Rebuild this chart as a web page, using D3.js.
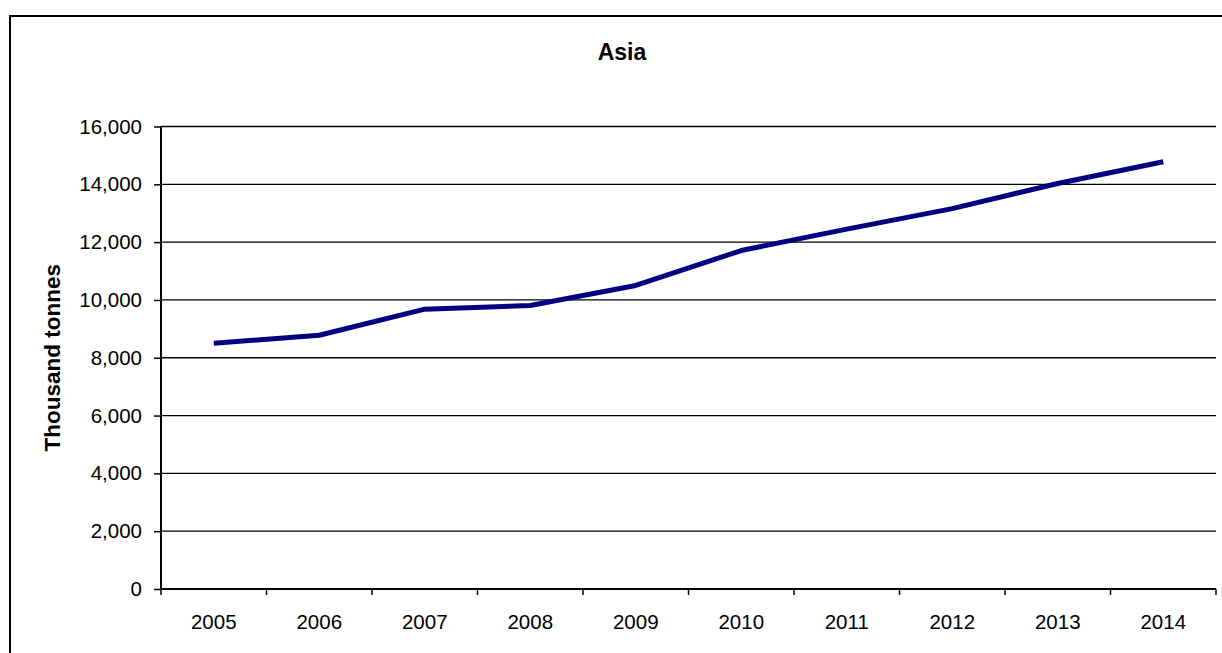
<!DOCTYPE html>
<html><head><meta charset="utf-8">
<script src="https://cdn.jsdelivr.net/npm/d3@7"></script>
<style>html,body{margin:0;padding:0;background:#fff;}svg{display:block;}</style>
</head><body>
<svg id="chart" width="1222" height="653"></svg>
<script>
const title = "Asia";
const yLabel = "Thousand tonnes";
const years = ["2005","2006","2007","2008","2009","2010","2011","2012","2013","2014"];
const values = [8500, 8780, 9680, 9810, 10500, 11710, 12450, 13160, 14030, 14780];
const yTicks = [0, 2000, 4000, 6000, 8000, 10000, 12000, 14000, 16000];

const svg = d3.select("#chart");
const W = 1222, H = 653;
const m = {left: 161, right: 6, top: 126.5, bottom: 64};
const font = "Arial, 'Liberation Sans', sans-serif";

svg.append("rect").attr("x", 10).attr("y", 16).attr("width", 1240).attr("height", 700)
  .attr("fill", "#fff").attr("stroke", "#000").attr("stroke-width", 2);

const x = d3.scaleBand().domain(years).range([m.left, W - m.right]);
const y = d3.scaleLinear().domain([0, 16000]).range([H - m.bottom, m.top]);

// gridlines
svg.append("g").selectAll("line").data(yTicks.filter(d => d > 0)).join("line")
  .attr("x1", m.left).attr("x2", W - m.right)
  .attr("y1", d => y(d)).attr("y2", d => y(d))
  .attr("stroke", "#000").attr("stroke-width", 1.3);

// y axis
const yAxis = svg.append("g").attr("transform", `translate(${m.left},0)`)
  .call(d3.axisLeft(y).tickValues(yTicks).tickFormat(d3.format(",")).tickSize(7).tickPadding(12));
yAxis.select(".domain").attr("stroke", "#000").attr("stroke-width", 2).attr("d", `M0,${y(16000)}V${y(0)}`);
yAxis.selectAll(".tick line").attr("stroke", "#000").attr("stroke-width", 1.5);
yAxis.selectAll("text").attr("font-family", font).attr("font-size", 20.5).attr("fill", "#000");

// x axis
const xAxis = svg.append("g").attr("transform", `translate(0,${y(0)})`)
  .call(d3.axisBottom(x).tickSize(0).tickPadding(25));
xAxis.select(".domain").attr("stroke", "#000").attr("stroke-width", 2).attr("d", `M${m.left},0H${W - m.right}`);
xAxis.selectAll("text").attr("font-family", font).attr("font-size", 20.5).attr("fill", "#000");
// x tick marks at category boundaries
const bounds = years.map(d => x(d)).concat([x(years[years.length - 1]) + x.bandwidth()]);
xAxis.append("g").selectAll("line").data(bounds).join("line")
  .attr("x1", d => d).attr("x2", d => d).attr("y1", 0).attr("y2", 6)
  .attr("stroke", "#000").attr("stroke-width", 1.5);

// line
const line = d3.line().x((d, i) => x(years[i]) + x.bandwidth() / 2).y(d => y(d));
svg.append("path").datum(values).attr("d", line)
  .attr("fill", "none").attr("stroke", "#000080").attr("stroke-width", 5)
  .attr("stroke-linejoin", "round");

// title
svg.append("text").attr("x", 622).attr("y", 60).attr("text-anchor", "middle")
  .attr("font-family", font).attr("font-size", 23).attr("font-weight", "bold").text(title);

// y label
svg.append("text").attr("transform", `translate(60,${(y(0) + y(16000)) / 2}) rotate(-90)`)
  .attr("text-anchor", "middle").attr("font-family", font).attr("font-size", 22.5)
  .attr("font-weight", "bold").text(yLabel);
</script>
</body></html>
